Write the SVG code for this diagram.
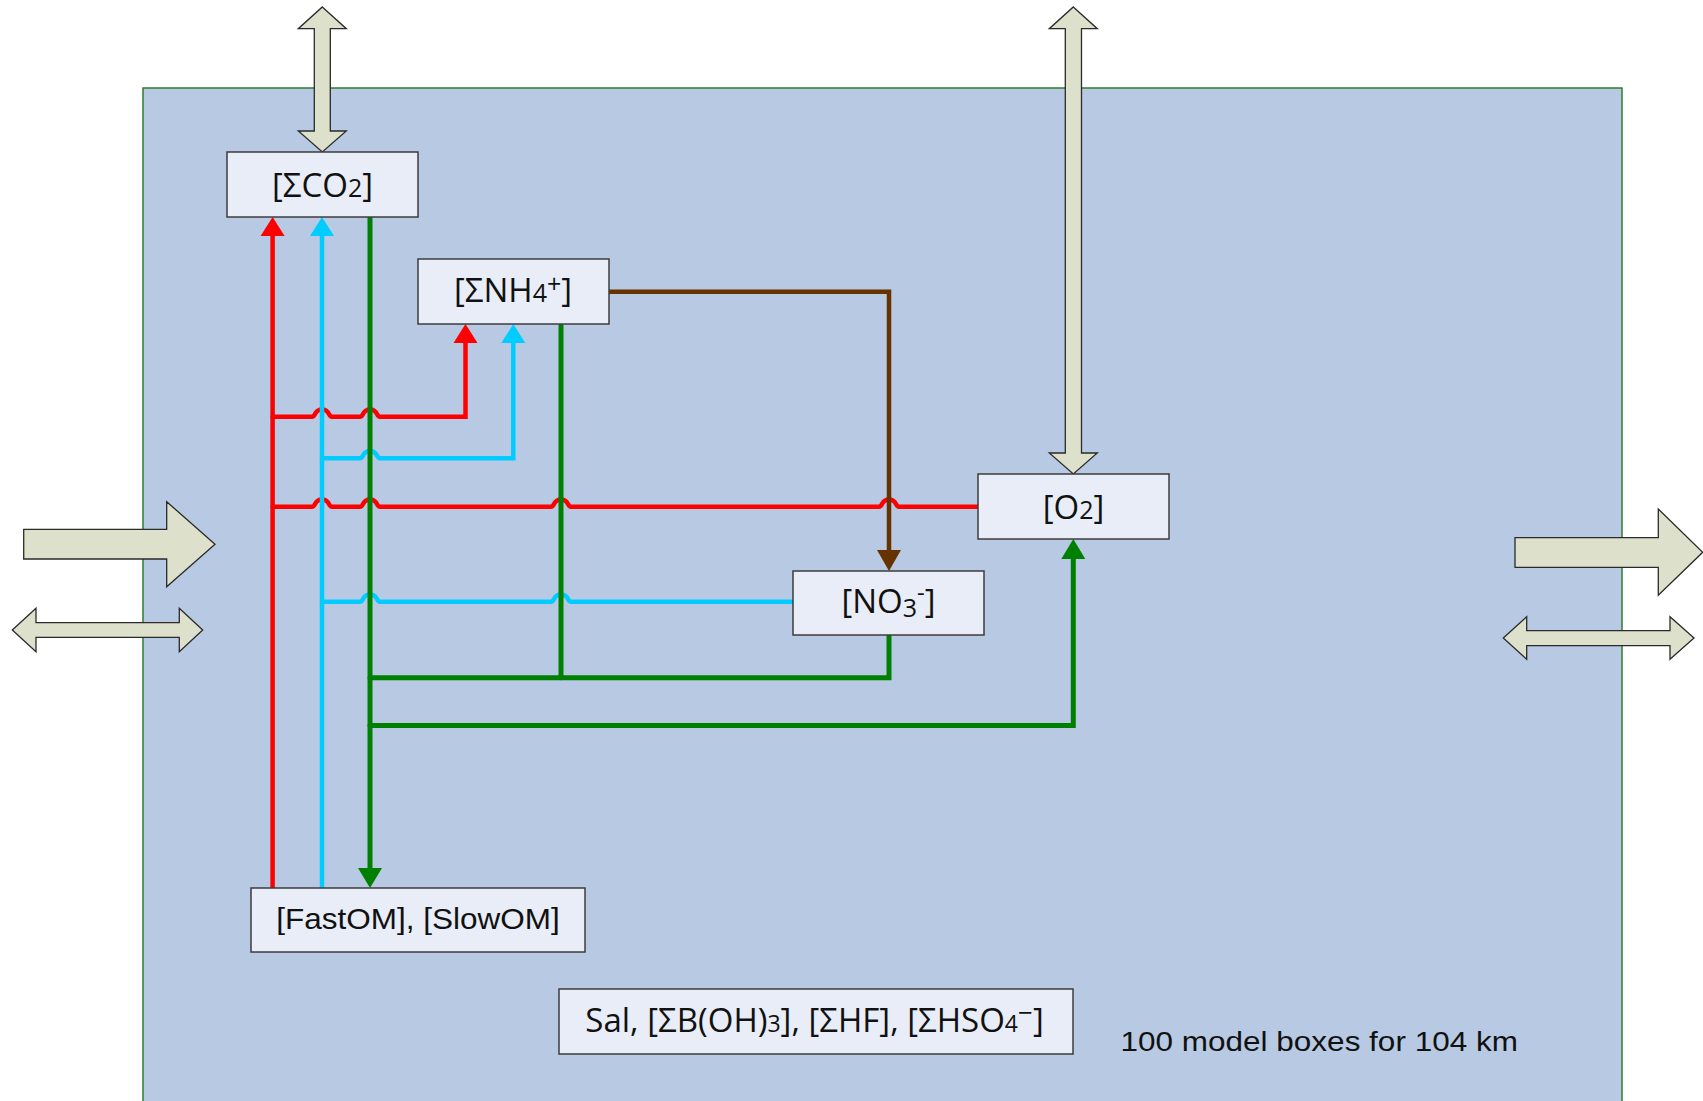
<svg xmlns="http://www.w3.org/2000/svg" width="1703" height="1101" viewBox="0 0 1703 1101">
<defs>
<style>
.bg{fill:#B8C9E3;stroke:#2E7D2E;stroke-width:1.5}
.box{fill:#E8EDF7;stroke:#3C3C3C;stroke-width:1.5}
.big{fill:#DDE1CB;stroke:#2A2A2A;stroke-width:1.3;stroke-linejoin:miter}
.lbl{font-family:"Open Sans","Noto Sans","DejaVu Sans",sans-serif;font-size:33px;fill:#111;text-anchor:middle}
.arial{font-family:"Liberation Sans",Arial,sans-serif;fill:#111}
.ln{fill:none;stroke-linecap:round;stroke-linejoin:miter}
.red{stroke:#FF0000;stroke-width:4.5}
.cyan{stroke:#00CCFF;stroke-width:4.5}
.green{stroke:#008000;stroke-width:5}
.brown{stroke:#663300;stroke-width:4.5}
</style>
</defs>
<rect class="bg" x="143" y="88" width="1479" height="1030"/>

<g id="flux-arrows">
<polygon class="big" points="322.3,7 346.3,28.7 330.3,28.7 330.3,131 346.3,131 322.3,152 298.3,131 314.3,131 314.3,28.7 298.3,28.7"/>
<polygon class="big" points="1073.3,7 1097.3,28.7 1081.5,28.7 1081.5,453 1097.3,453 1073.3,474 1049.3,453 1065.3,453 1065.3,28.7 1049.3,28.7"/>
<polygon class="big" points="23.7,529.3 166.7,529.3 166.7,501.7 215,544.2 166.7,586.7 166.7,559 23.7,559"/>
<polygon class="big" points="12.3,630 36,608.3 36,622.7 179.3,622.7 179.3,608.3 202.7,630 179.3,651.7 179.3,637.3 36,637.3 36,651.7"/>
<polygon class="big" points="1515,537.7 1658.3,537.7 1658.3,509 1702.7,552.3 1658.3,595.3 1658.3,567.3 1515,567.3"/>
<polygon class="big" points="1503.3,638 1526.7,616.7 1526.7,630.7 1670,630.7 1670,616.7 1694,638 1670,659.3 1670,645.7 1526.7,645.7 1526.7,659.3"/>
</g>

<g id="connectors">
<!-- red -->
<path class="ln red" d="M272.6,888 V234"/>
<polygon fill="#FF0000" points="272.6,217 284.6,236 260.6,236"/>
<path class="ln red" d="M272.6,416.7 H312 C316,416.7 314,409.5 322,409.5 C330,409.5 328,416.7 332,416.7 H360 C364,416.7 362,409.5 370,409.5 C378,409.5 376,416.7 380,416.7 H465.5 V341"/>
<polygon fill="#FF0000" points="465.5,324 477.5,343 453.5,343"/>
<path class="ln red" d="M272.6,506.7 H312 C316,506.7 314,499.5 322,499.5 C330,499.5 328,506.7 332,506.7 H360 C364,506.7 362,499.5 370,499.5 C378,499.5 376,506.7 380,506.7 H551 C555,506.7 553,499.5 561,499.5 C569,499.5 567,506.7 571,506.7 H879 C883,506.7 881,499.5 889,499.5 C897,499.5 895,506.7 899,506.7 H979"/>
<!-- cyan -->
<path class="ln cyan" d="M322,888 V234"/>
<polygon fill="#00CCFF" points="322,217 334,236 310,236"/>
<path class="ln cyan" d="M322,458.3 H360 C364,458.3 362,451 370,451 C378,451 376,458.3 380,458.3 H513.3 V341"/>
<polygon fill="#00CCFF" points="513.3,324 525.3,343 501.3,343"/>
<path class="ln cyan" d="M322,601.7 H360 C364,601.7 362,594.5 370,594.5 C378,594.5 376,601.7 380,601.7 H551 C555,601.7 553,594.5 561,594.5 C569,594.5 567,601.7 571,601.7 H794"/>
<!-- green -->
<path class="ln green" d="M370,217 V870"/>
<polygon fill="#008000" points="370,888 382,868 358,868"/>
<path class="ln green" d="M561,326 V677.7"/>
<path class="ln green" d="M889,636 V677.7 H370"/>
<path class="ln green" d="M370,725.5 H1073.3 V557"/>
<polygon fill="#008000" points="1073.3,539 1085.3,559 1061.3,559"/>
<!-- brown -->
<path class="ln brown" d="M609,291.7 H889 V552"/>
<polygon fill="#663300" points="889,571 901,550 877,550"/>
</g>

<g id="node-co2">
<rect class="box" x="227" y="152" width="191" height="65"/>
<text class="lbl" x="322.5" y="197">[ΣCO<tspan font-size="25">2</tspan>]</text>
</g>
<g id="node-nh4">
<rect class="box" x="418" y="259" width="191" height="65"/>
<text class="lbl" x="513" y="302">[ΣNH<tspan font-size="25">4</tspan><tspan font-size="25" dy="-9">+</tspan><tspan dy="9">]</tspan></text>
</g>
<g id="node-o2">
<rect class="box" x="978" y="474" width="191" height="65"/>
<text class="lbl" x="1073.5" y="519">[O<tspan font-size="25">2</tspan>]</text>
</g>
<g id="node-no3">
<rect class="box" x="793" y="571" width="191" height="64"/>
<text class="lbl" x="888.5" y="613">[NO<tspan font-size="25" dy="4">3</tspan><tspan font-size="24" dy="-16">-</tspan><tspan dy="12">]</tspan></text>
</g>
<g id="node-om">
<rect class="box" x="251" y="888" width="334" height="64"/>
<text class="arial" transform="translate(418,929) scale(1.05,1)" font-size="30" text-anchor="middle">[FastOM], [SlowOM]</text>
</g>
<g id="node-sal">
<rect class="box" x="559" y="989" width="514" height="65"/>
<text class="lbl" x="814.5" y="1032" font-size="31.5">Sal, [ΣB(OH)<tspan font-size="23">3</tspan>], [ΣHF], [ΣHSO<tspan font-size="23">4</tspan><tspan font-size="26" dy="-10">−</tspan><tspan dy="10">]</tspan></text>
</g>
<text class="arial" transform="translate(1120.5,1051) scale(1.125,1)" font-size="28">100 model boxes for 104 km</text>
</svg>
